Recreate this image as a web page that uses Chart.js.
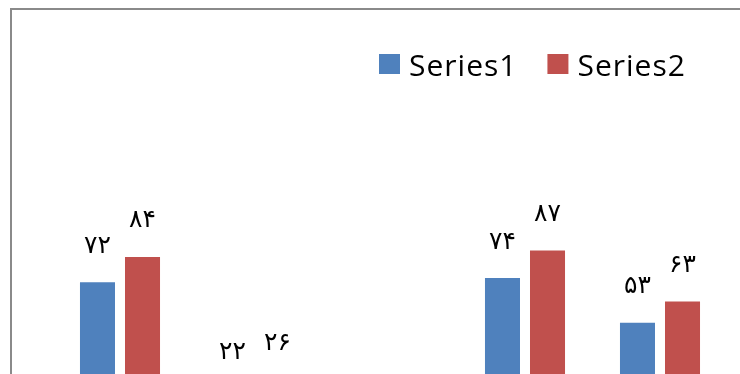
<!DOCTYPE html>
<html>
<head>
<meta charset="utf-8">
<script src="https://cdn.jsdelivr.net/npm/chart.js@4/dist/chart.umd.min.js"></script>
<style>
  html, body { margin: 0; padding: 0; width: 740px; height: 374px; overflow: hidden; background: #fff; }
  #frame { position: absolute; left: 10px; top: 8px; width: 800px; height: 500px;
           border-left: 2px solid #8a8a8a; border-top: 2px solid #8a8a8a; }
  #box { position: absolute; left: 0; top: 0; width: 740px; height: 470px; }
</style>
</head>
<body>
<div id="box"><canvas id="c"></canvas></div>
<div id="frame"></div>
<script>
// Chart data
const categories = ['1', '2', '3', '4', '5'];
const series1 = [72, 22, null, 74, 53];
const series2 = [84, 26, null, 87, 63];
const seriesNames = ['Series1', 'Series2'];
const seriesColors = ['#4f81bd', '#c0504d'];

// Persian (Extended Arabic-Indic) digits for value labels
const faDigits = '۰۱۲۳۴۵۶۷۸۹';
const toFa = v => String(v).replace(/[0-9]/g, d => faDigits[+d]);

// Value labels above each bar
const valueLabels = {
  id: 'valueLabels',
  afterDatasetsDraw(chart) {
    const ctx = chart.ctx;
    ctx.save();
    ctx.font = '25px "DejaVu Sans"';
    ctx.fillStyle = '#000';
    ctx.textAlign = 'center';
    ctx.textBaseline = 'middle';
    chart.data.datasets.forEach((ds, i) => {
      chart.getDatasetMeta(i).data.forEach((bar, j) => {
        const v = ds.data[j];
        if (v === null || v === undefined) return;
        ctx.fillText(toFa(v), bar.x, bar.y - 36);
      });
    });
    ctx.restore();
  }
};

// Legend drawn at the upper right
const sideLegend = {
  id: 'sideLegend',
  afterDraw(chart) {
    const ctx = chart.ctx;
    ctx.save();
    ctx.font = '30px "Open Sans"';
    ctx.letterSpacing = '1px';
    ctx.textBaseline = 'alphabetic';
    let x = 379;
    chart.data.datasets.forEach(ds => {
      ctx.fillStyle = ds.backgroundColor;
      ctx.fillRect(x, 54, 21, 20);
      ctx.fillStyle = '#000';
      ctx.fillText(ds.label, x + 30, 75.5);
      x += 30 + ctx.measureText(ds.label).width + 30;
    });
    ctx.restore();
  }
};

new Chart(document.getElementById('c'), {
  type: 'bar',
  data: {
    labels: categories,
    datasets: [
      { label: seriesNames[0], data: series1, backgroundColor: seriesColors[0] },
      { label: seriesNames[1], data: series2, backgroundColor: seriesColors[1] }
    ]
  },
  options: {
    responsive: true,
    maintainAspectRatio: false,
    animation: false,
    layout: { padding: { left: 52.5, right: 12.5, top: 117, bottom: 35 } },
    datasets: { bar: { categoryPercentage: 0.667, barPercentage: 0.778 } },
    plugins: { legend: { display: false }, tooltip: { enabled: false } },
    scales: {
      x: { display: false },
      y: { display: false, min: 0, max: 150 }
    }
  },
  plugins: [valueLabels, sideLegend]
});
</script>
</body>
</html>
